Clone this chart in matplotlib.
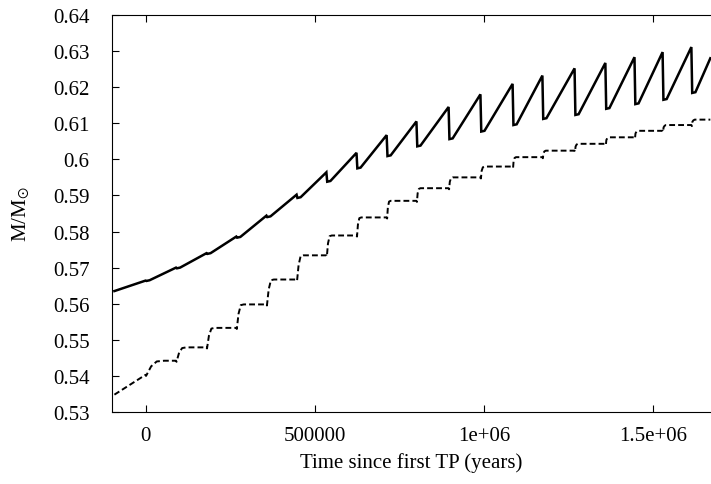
import matplotlib
matplotlib.use("Agg")
import matplotlib.pyplot as plt
from matplotlib.ticker import FormatStrFormatter

# thermal pulse times (years since first TP)
pulse_t = [0, 90000, 180000, 268000, 357000, 446000, 534000, 623000, 712000,
           800000, 895000, 989000, 1084000, 1172000, 1267000, 1358000,
           1444000, 1527000, 1612000]

# solid curve: value just before each pulse and just after it
solid_peak = [0.5664, 0.5700, 0.5740, 0.5786, 0.5844, 0.5902, 0.5964, 0.6018,
              0.6067, 0.6105, 0.6145, 0.6180, 0.6209, 0.6232, 0.6252, 0.6267,
              0.6283, 0.6297, 0.6311]
solid_trough = [0.5663, 0.5698, 0.5738, 0.5783, 0.5840, 0.5893, 0.5938, 0.5975,
                0.6009, 0.6036, 0.6056, 0.6077, 0.6095, 0.6112, 0.6123, 0.6140,
                0.6153, 0.6165, 0.6184]
solid_start = (-92000, 0.5635)
solid_end = (1668000, 0.6280)

# dashed curve: plateau level reached after each pulse, and how long the rise takes
dashed_level = [0.5442, 0.5479, 0.5533, 0.5598, 0.5667, 0.5734, 0.5789, 0.5839,
                0.5885, 0.5920, 0.5950, 0.5980, 0.6006, 0.6024, 0.6043, 0.6061,
                0.6079, 0.6095, 0.6110]
dashed_rise = [55000, 30000, 24000, 22000, 22000, 20000, 16000, 14000, 12000,
               12000, 12000, 12000, 10000, 10000, 10000, 10000, 10000, 10000, 10000]
dashed_start = (-92000, 0.5348)
dashed_pre = 0.5403  # value at the first TP
dashed_end_t = 1668000

# build solid sawtooth path
sx, sy = [solid_start[0]], [solid_start[1]]
for t, p, tr in zip(pulse_t, solid_peak, solid_trough):
    sx += [t, t + 2500, t + 12000]
    sy += [p, tr, tr + 0.0002]
sx.append(solid_end[0])
sy.append(solid_end[1])

# build dashed step path
dx, dy = [dashed_start[0]], [dashed_start[1]]
prev = dashed_pre
for t, lev, r in zip(pulse_t, dashed_level, dashed_rise):
    d = lev - prev
    dx += [t, t + 1500, t + 0.3 * r, t + 0.6 * r, t + r]
    dy += [prev, prev - 0.0003, prev + 0.6 * d, lev - 0.0002, lev]
    prev = lev
dx.append(dashed_end_t)
dy.append(prev)

plt.rcParams['font.family'] = ['Liberation Serif', 'DejaVu Serif']
plt.rcParams['mathtext.fontset'] = 'stix'

fig = plt.figure(figsize=(7.11, 4.85), dpi=100)
ax = fig.add_axes([0.1571, 0.1485, 0.8429, 0.8186])

ax.plot(sx, sy, color='black', lw=1.8, solid_joinstyle='miter')
line, = ax.plot(dx, dy, color='black', lw=1.4)
line.set_dashes((3, 1.6))

ax.set_xlim(-100000, 1670000)
ax.set_ylim(0.53, 0.64)
ax.set_xticks([0, 500000, 1000000, 1500000])
ax.set_yticks([0.53 + 0.01 * i for i in range(12)])
ax.xaxis.set_major_formatter(FormatStrFormatter('%g'))
ax.yaxis.set_major_formatter(FormatStrFormatter('%g'))
ax.tick_params(direction='in', length=5, width=0.8, top=True, right=False,
               labelsize=15, colors='black')
ax.tick_params(axis='x', pad=10)
ax.tick_params(axis='y', pad=16)
ax.spines['right'].set_visible(False)
for s in ['left', 'bottom', 'top']:
    ax.spines[s].set_linewidth(0.8)

ax.set_xlabel('Time since first TP (years)', fontsize=15)
ax.set_ylabel(r'M/M$_{\odot}$', fontsize=15)
ax.xaxis.set_label_coords(0.5, -0.126)
ax.xaxis.label.set_va('center')
ax.yaxis.set_label_coords(-0.15, 0.5)
ax.yaxis.label.set_va('center')

fig.savefig('out.png', dpi=100)
